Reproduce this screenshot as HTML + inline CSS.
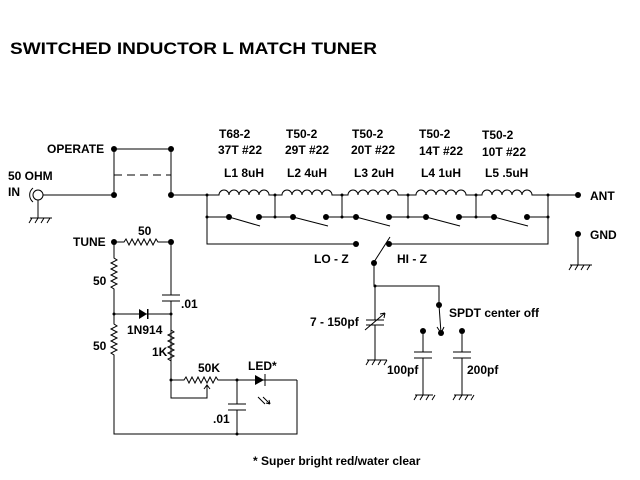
<!DOCTYPE html>
<html><head><style>body{margin:0;background:#fff}svg{display:block}text{font-family:"Liberation Sans",sans-serif;font-weight:bold;font-size:12px;fill:#000}</style></head>
<body>
<svg width="640" height="480" viewBox="0 0 640 480" xmlns="http://www.w3.org/2000/svg">
<text x="10" y="54" style="font-size:17px" textLength="367" lengthAdjust="spacingAndGlyphs">SWITCHED INDUCTOR L MATCH TUNER</text>
<g stroke="#000" stroke-width="1" fill="none">
<!-- input -->
<circle cx="38" cy="195" r="5"/><path d="M33 188 a9 9 0 0 0 0 14"/>
<path d="M43 195 H114 M114 149 H171 M114 149 V195 M171 149 V195 M171 195 H207"/>
<path d="M114 175 H171" stroke-dasharray="8,5"/>
<path d="M38 200 V218 M30 218 H52 M32 218 l-3 5 M38 218 l-3 5 M44 218 l-3 5 M50 218 l-3 5"/>
<!-- coils -->
<path d="M207 195 H219 a5 5 0 0 1 10 0 a5 5 0 0 1 10 0 a5 5 0 0 1 10 0 a5 5 0 0 1 10 0 a5 5 0 0 1 10 0 H282 a5 5 0 0 1 10 0 a5 5 0 0 1 10 0 a5 5 0 0 1 10 0 a5 5 0 0 1 10 0 a5 5 0 0 1 10 0 H348 a5 5 0 0 1 10 0 a5 5 0 0 1 10 0 a5 5 0 0 1 10 0 a5 5 0 0 1 10 0 a5 5 0 0 1 10 0 H416 a5 5 0 0 1 10 0 a5 5 0 0 1 10 0 a5 5 0 0 1 10 0 a5 5 0 0 1 10 0 a5 5 0 0 1 10 0 H482 a5 5 0 0 1 10 0 a5 5 0 0 1 10 0 a5 5 0 0 1 10 0 a5 5 0 0 1 10 0 a5 5 0 0 1 10 0 H578"/>
<path d="M207 195 V244 H356 M389 244 H548 V195 M275 195 V217 M342 195 V217 M408 195 V217 M476 195 V217"/>
<path d="M207 217 H229 M259 217 H293 M326 217 H356 M389 217 H426 M459 217 H494 M527 217 H548"/>
<path d="M229 217 L260 226 M293 217 L328 226 M356 217 L390 226 M426 217 L460 226 M494 217 L528 226"/>
<path d="M374 262 L390 237 M374 262 V286 H439 V305 M439 305 L441 333 M437 327 l4 6 l3 -6"/>
<!-- GND -->
<path d="M578 234 V265 M570 265 H592 M572 265 l-3 5 M578 265 l-3 5 M584 265 l-3 5 M590 265 l-3 5"/>
<!-- var cap -->
<path d="M375 286 V320 M366 320 H384 M366 325 H384 M375 325 V360 M365 330 L385 313 M385 313 l-5 1 M385 313 l-1 5"/>
<path d="M367 360 H387 M369 360 l-3 5 M375 360 l-3 5 M381 360 l-3 5 M387 360 l-3 5"/>
<path d="M423 331 V352 M414 352 H432 M414 358 H432 M423 358 V395 M415 395 H433 M417 395 l-3 5 M423 395 l-3 5 M429 395 l-3 5 M435 395 l-3 5"/>
<path d="M462 331 V352 M453 352 H471 M453 358 H471 M462 358 V395 M454 395 H472 M456 395 l-3 5 M462 395 l-3 5 M468 395 l-3 5 M474 395 l-3 5"/>
<!-- tune -->
<path d="M114 242 H124 l2 -3 l3 6 l3 -6 l3 6 l3 -6 l3 6 l3 -6 l3 6 l3 -6 l3 6 l3 -6 l2 3 H171"/>
<path d="M171 242 V295 M162 295 H180 M162 301 H180 M171 301 V380"/>
<path d="M114 242 V258 l3 2 l-6 3 l6 3 l-6 3 l6 3 l-6 3 l6 3 l-6 3 l6 3 l-6 3 l3 2 V324 l3 2 l-6 3 l6 3 l-6 3 l6 3 l-6 3 l6 3 l-6 3 l6 3 l-6 3 l3 2 V434 H297 V380"/>
<path d="M171 330 l3 2 l-6 3 l6 3 l-6 3 l6 3 l-6 3 l6 3 l-6 3 l6 3 l-6 3 l3 2"/>
<path d="M114 314 H171"/>
<path d="M171 380 H184 l2 -3 l3 6 l3 -6 l3 6 l3 -6 l3 6 l3 -6 l3 6 l3 -6 l3 6 l3 -6 l2 3 H297 M171 380 V398 H207 V386 M204 389 l3 -4 l3 4"/>
<path d="M237 380 V404 M228 404 H246 M228 410 H246 M237 410 V434"/>
<path d="M265 374 V386 M263 397 l7 7 M258 397 l7 7 M270 404 l-4 -1 M270 404 l-1 -4"/>
</g>
<g fill="#000">
<path d="M139 309 L147 314 L139 319 Z"/><rect x="147" y="309" width="1.5" height="10"/>
<path d="M255 375 L264 380 L255 385 Z"/>
<circle cx="114" cy="149" r="3"/><circle cx="171" cy="149" r="3"/><circle cx="114" cy="195" r="3"/><circle cx="171" cy="195" r="3"/>
<circle cx="207" cy="195" r="1.5"/><circle cx="207" cy="217" r="1.5"/><circle cx="548" cy="195" r="1.5"/><circle cx="548" cy="217" r="1.5"/>
<circle cx="275" cy="195" r="1.5"/><circle cx="342" cy="195" r="1.5"/><circle cx="408" cy="195" r="1.5"/><circle cx="476" cy="195" r="1.5"/>
<circle cx="275" cy="217" r="1.5"/><circle cx="342" cy="217" r="1.5"/><circle cx="408" cy="217" r="1.5"/><circle cx="476" cy="217" r="1.5"/>
<circle cx="229" cy="217" r="3"/><circle cx="259" cy="217" r="3"/><circle cx="293" cy="217" r="3"/><circle cx="326" cy="217" r="3"/><circle cx="356" cy="217" r="3"/><circle cx="389" cy="217" r="3"/><circle cx="426" cy="217" r="3"/><circle cx="459" cy="217" r="3"/><circle cx="494" cy="217" r="3"/><circle cx="527" cy="217" r="3"/>
<circle cx="356" cy="244" r="3"/><circle cx="389" cy="244" r="3"/><circle cx="374" cy="263" r="3"/>
<circle cx="578" cy="195" r="3"/><circle cx="578" cy="234" r="3"/>
<circle cx="375" cy="286" r="1.5"/><circle cx="439" cy="305" r="3"/><circle cx="423" cy="331" r="3"/><circle cx="441" cy="333" r="3"/><circle cx="462" cy="331" r="3"/>
<circle cx="114" cy="242" r="3"/><circle cx="171" cy="242" r="3"/><circle cx="114" cy="314" r="1.5"/><circle cx="171" cy="314" r="1.5"/><circle cx="171" cy="380" r="1.5"/><circle cx="237" cy="380" r="1.5"/><circle cx="237" cy="434" r="1.5"/>
</g>
<text x="47" y="153">OPERATE</text>
<text x="8" y="180">50 OHM</text><text x="8" y="196">IN</text>
<text x="219" y="138">T68-2</text><text x="218" y="154">37T #22</text>
<text x="286" y="138">T50-2</text><text x="285" y="154">29T #22</text>
<text x="352" y="138">T50-2</text><text x="351" y="154">20T #22</text>
<text x="419" y="138">T50-2</text><text x="419" y="155">14T #22</text>
<text x="482" y="139">T50-2</text><text x="482" y="156">10T #22</text>
<text x="224" y="177">L1 8uH</text><text x="287" y="177">L2 4uH</text><text x="354" y="177">L3 2uH</text><text x="421" y="177">L4 1uH</text><text x="485" y="177">L5 .5uH</text>
<text x="590" y="200">ANT</text><text x="590" y="239">GND</text>
<text x="314" y="263">LO - Z</text><text x="397" y="263">HI - Z</text>
<text x="73" y="246">TUNE</text><text x="138" y="235">50</text>
<text x="93" y="285">50</text><text x="93" y="350">50</text>
<text x="181" y="308">.01</text><text x="127" y="334">1N914</text><text x="152" y="356">1K</text>
<text x="198" y="372">50K</text><text x="248" y="370">LED*</text><text x="213" y="423">.01</text>
<text x="310" y="326">7 - 150pf</text><text x="449" y="317">SPDT center off</text>
<text x="387" y="374">100pf</text><text x="467" y="374">200pf</text>
<text x="253" y="465">* Super bright red/water clear</text>
</svg>
</body></html>
